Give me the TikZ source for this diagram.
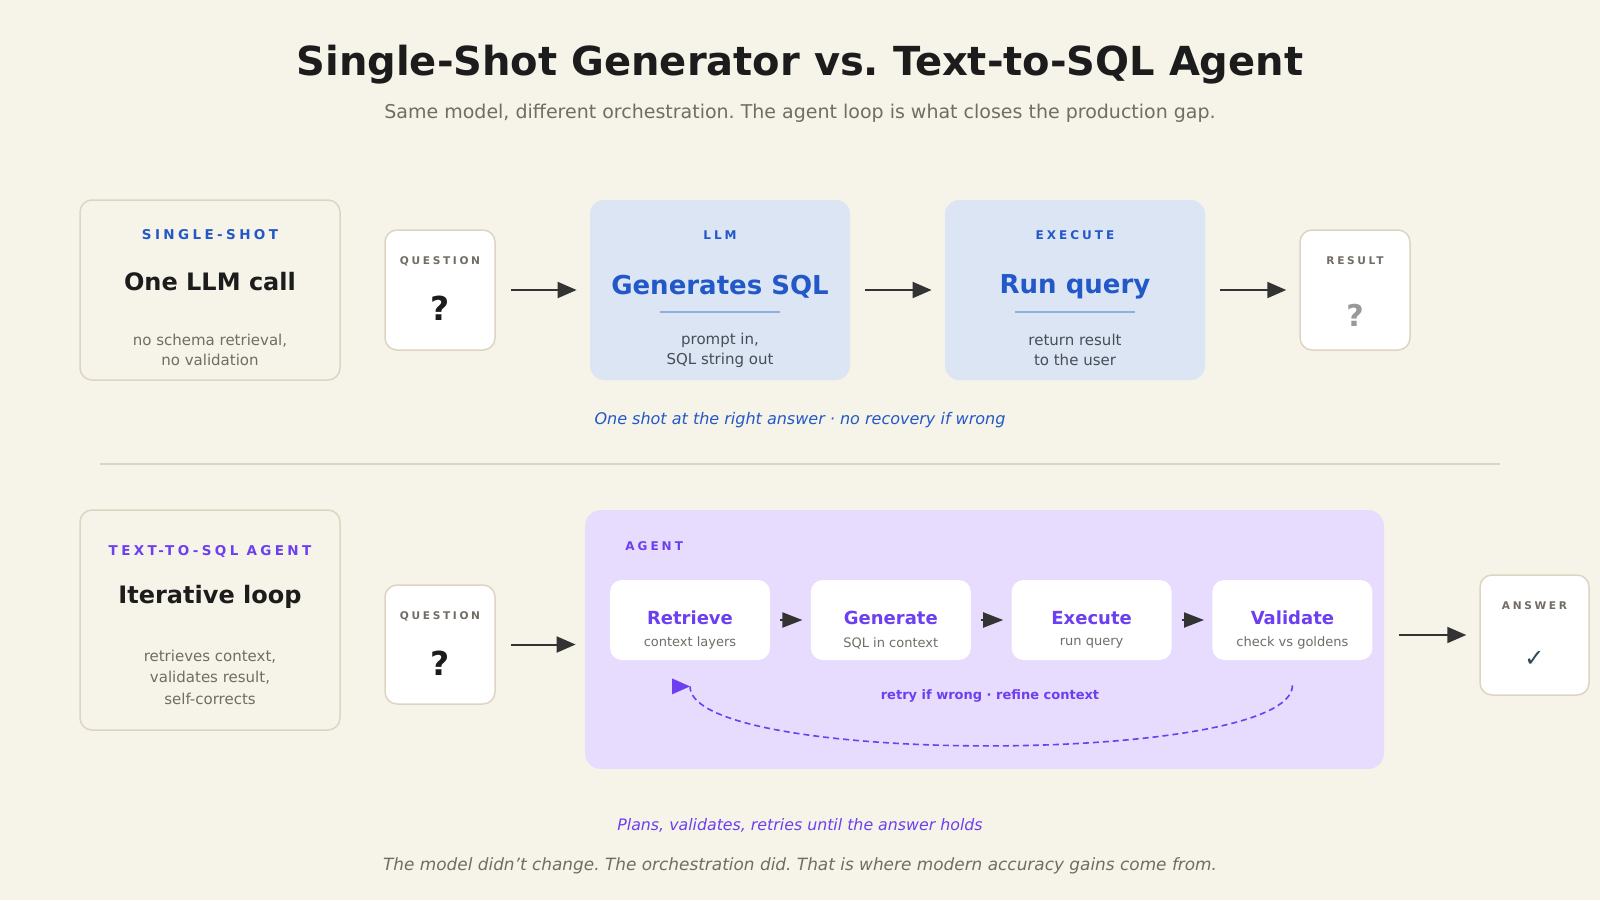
\documentclass[tikz,border=0pt]{standalone}
\usepackage{fontspec}
\setmainfont{DejaVu Sans}
\newfontfamily\trackfont{DejaVu Sans}[LetterSpace=25]
\usetikzlibrary{positioning, arrows.meta, calc}
\frenchspacing

\definecolor{paper}{HTML}{F6F3E8}
\definecolor{edge}{HTML}{DDD5C2}
\definecolor{ink}{HTML}{1C1C1C}
\definecolor{muted}{HTML}{716C66}
\definecolor{slate}{HTML}{474D57}
\definecolor{sqlblue}{HTML}{2258C8}
\definecolor{bluefill}{HTML}{DCE5F3}
\definecolor{blueline}{HTML}{8EB0E0}
\definecolor{agentpurple}{HTML}{6C3FF0}
\definecolor{lavender}{HTML}{E7DCFD}
\definecolor{arrowgray}{HTML}{333333}
\definecolor{checkslate}{HTML}{2F4858}

\begin{document}
\begin{tikzpicture}[
    x=0.5pt, y=-0.5pt,
    panel/.style={draw=edge, line width=0.75pt, rounded corners=6pt, fill=paper, minimum width=130pt, inner sep=0pt},
    qbox/.style={draw=edge, line width=0.75pt, rounded corners=6pt, fill=white, minimum width=55pt, minimum height=60pt, inner sep=0pt},
    stage/.style={fill=bluefill, rounded corners=7pt, minimum width=130pt, minimum height=90pt, inner sep=0pt},
    agentstep/.style={fill=white, rounded corners=6pt, minimum width=80pt, minimum height=40pt, inner sep=0pt},
    kicker/.style={font=\trackfont\bfseries\fontsize{6.75}{8}\selectfont, inner sep=0pt},
    minikicker/.style={font=\trackfont\bfseries\fontsize{6}{7}\selectfont, inner sep=0pt},
    tag/.style={font=\trackfont\bfseries\fontsize{5.3}{7}\selectfont, text=muted, inner sep=0pt},
    headline/.style={font=\bfseries\fontsize{12}{14}\selectfont, text=ink, inner sep=0pt},
    stagehead/.style={font=\bfseries\fontsize{13}{15}\selectfont, text=sqlblue, inner sep=0pt},
    steptitle/.style={font=\bfseries\fontsize{9}{10}\selectfont, text=agentpurple, inner sep=0pt},
    stepsub/.style={font=\fontsize{6.5}{8}\selectfont, text=muted, inner sep=0pt},
    note/.style={font=\fontsize{7.5}{10}\selectfont, align=center, inner sep=0pt},
    qmark/.style={font=\bfseries\fontsize{16.5}{18}\selectfont, inner sep=0pt},
    flow/.style={-{Triangle[length=9.5pt, width=8pt]}, line width=1pt, draw=arrowgray, shorten <=7.5pt, shorten >=6.5pt},
    hop/.style={-{Triangle[length=10pt, width=7.5pt]}, line width=1pt, draw=arrowgray, shorten <=5pt, shorten >=4pt},
    retry/.style={agentpurple, line width=0.8pt, dash pattern=on 3pt off 2pt}
]
\useasboundingbox (0,0) rectangle (1600,900);
\fill[paper] (0,0) rectangle (1600,900);

% Title
\node[font=\bfseries\fontsize{20}{24}\selectfont, text=ink] (title) at (800,65) {Single-Shot Generator vs. Text-to-SQL Agent};
\node[font=\fontsize{9.5}{11}\selectfont, text=muted] (subtitle) at (800,113) {Same model, different orchestration. The agent loop is what closes the production gap.};

% Single-shot row
\node[panel, minimum height=90pt] (oneshot) at (210,290) {};
\node[kicker, text=sqlblue] (oneshotkick) at (210,235) {SINGLE-SHOT};
\node[headline] (oneshothead) at (210,282) {One LLM call};
\node[note, text=muted] (oneshotnote) at (210,350) {no schema retrieval,\\no validation};

\node[qbox] (askone) at (440,290) {};
\node[tag] (askonetag) at (440,261) {QUESTION};
\node[qmark, text=ink] (askonemark) at (440,308) {?};

\node[stage] (llm) at (720,290) {};
\node[minikicker, text=sqlblue] (llmkick) at (720,235) {LLM};
\node[stagehead] (llmhead) at (720,287) {Generates SQL};
\draw[blueline, line width=1pt] ($(llm.center)+(-60,22)$) -- ($(llm.center)+(60,22)$);
\node[note, text=slate] (llmnote) at (720,350) {prompt in,\\SQL string out};

\node[stage] (run) at (1075,290) {};
\node[minikicker, text=sqlblue] (runkick) at (1075,235) {EXECUTE};
\node[stagehead] (runhead) at (1075,287) {Run query};
\draw[blueline, line width=1pt] ($(run.center)+(-60,22)$) -- ($(run.center)+(60,22)$);
\node[note, text=slate] (runnote) at (1075,350) {return result\\to the user};

\node[qbox] (result) at (1355,290) {};
\node[tag] (resulttag) at (1355,261) {RESULT};
\node[qmark, text=black!40, font=\bfseries\fontsize{15}{17}\selectfont] (resultmark) at (1355,315) {?};

\draw[flow] (askone) -- (llm);
\draw[flow] (llm) -- (run);
\draw[flow] (run) -- (result);

\node[font=\itshape\fontsize{8}{10}\selectfont, text=sqlblue] (oneshotcap) at (800,420) {One shot at the right answer · no recovery if wrong};

% Divider
\draw[edge, line width=0.75pt] (100,464) -- (1500,464);

% Agent row
\node[panel, minimum height=110pt] (looped) at (210,620) {};
\node[kicker, text=agentpurple] (loopedkick) at (210,551) {TEXT-TO-SQL AGENT};
\node[headline] (loopedhead) at (210,597) {Iterative loop};
\node[note, text=muted, font=\fontsize{7.5}{10.75}\selectfont] (loopednote) at (210,677) {retrieves context,\\validates result,\\self-corrects};

\node[qbox, minimum height=59.5pt] (askagent) at (440,644.5) {};
\node[tag] (askagenttag) at (440,616) {QUESTION};
\node[qmark, text=ink] (askagentmark) at (440,663) {?};

\node[fill=lavender, rounded corners=8pt, minimum width=399.5pt, minimum height=129.5pt, inner sep=0pt] (agent) at (984.5,639.5) {};
\node[minikicker, text=agentpurple, anchor=west] (agentkick) at (625,546) {AGENT};

\node[agentstep] (retrieve) at (690,620) {};
\node[agentstep, right=20pt of retrieve] (generate) {};
\node[agentstep, right=20pt of generate] (execute) {};
\node[agentstep, right=20pt of execute] (validate) {};

\node[steptitle] (retrievetitle) at ($(retrieve)+(0,-2)$) {Retrieve};
\node[stepsub] (retrievesub) at ($(retrieve)+(0,23)$) {context layers};
\node[steptitle] (generatetitle) at ($(generate)+(0,-2)$) {Generate};
\node[stepsub] (generatesub) at ($(generate)+(0,23)$) {SQL in context};
\node[steptitle] (executetitle) at ($(execute)+(0,-2)$) {Execute};
\node[stepsub] (executesub) at ($(execute)+(0,23)$) {run query};
\node[steptitle] (validatetitle) at ($(validate)+(0,-2)$) {Validate};
\node[stepsub] (validatesub) at ($(validate)+(0,23)$) {check vs goldens};

\draw[hop] (retrieve) -- (generate);
\draw[hop] (generate) -- (execute);
\draw[hop] (execute) -- (validate);

% Retry loop
\coordinate (retrystart) at ($(validate.south)+(0,25)$);
\coordinate (retryend) at ($(retrieve.south)+(0,26)$);
\draw[retry] (retrystart) .. controls +(0,80) and +(0,80) .. (retryend);
\fill[agentpurple] (retryend) -- ++(-18,-8) -- ++(0,16) -- cycle;
\node[font=\bfseries\fontsize{6.5}{8}\selectfont, text=agentpurple] (retrylabel) at (990,696) {retry if wrong · refine context};

\node[qbox, minimum width=54.5pt] (answer) at (1534.5,635) {};
\node[tag] (answertag) at (1534.5,606) {ANSWER};
\node[font=\fontsize{12}{14}\selectfont, text=checkslate] (answermark) at (1534.5,659) {✓};

\draw[flow, shorten >=4.5pt] (askagent.east) -- (askagent.east -| agent.west);
\draw[flow] (agent.east |- answer.west) -- (answer.west);

% Footer
\node[font=\itshape\fontsize{7.9}{9}\selectfont, text=agentpurple] (agentcap) at (800,825) {Plans, validates, retries until the answer holds};
\node[font=\itshape\fontsize{8.45}{10}\selectfont, text=muted] (closing) at (800,866) {The model didn’t change. The orchestration did. That is where modern accuracy gains come from.};

\end{tikzpicture}
\end{document}
